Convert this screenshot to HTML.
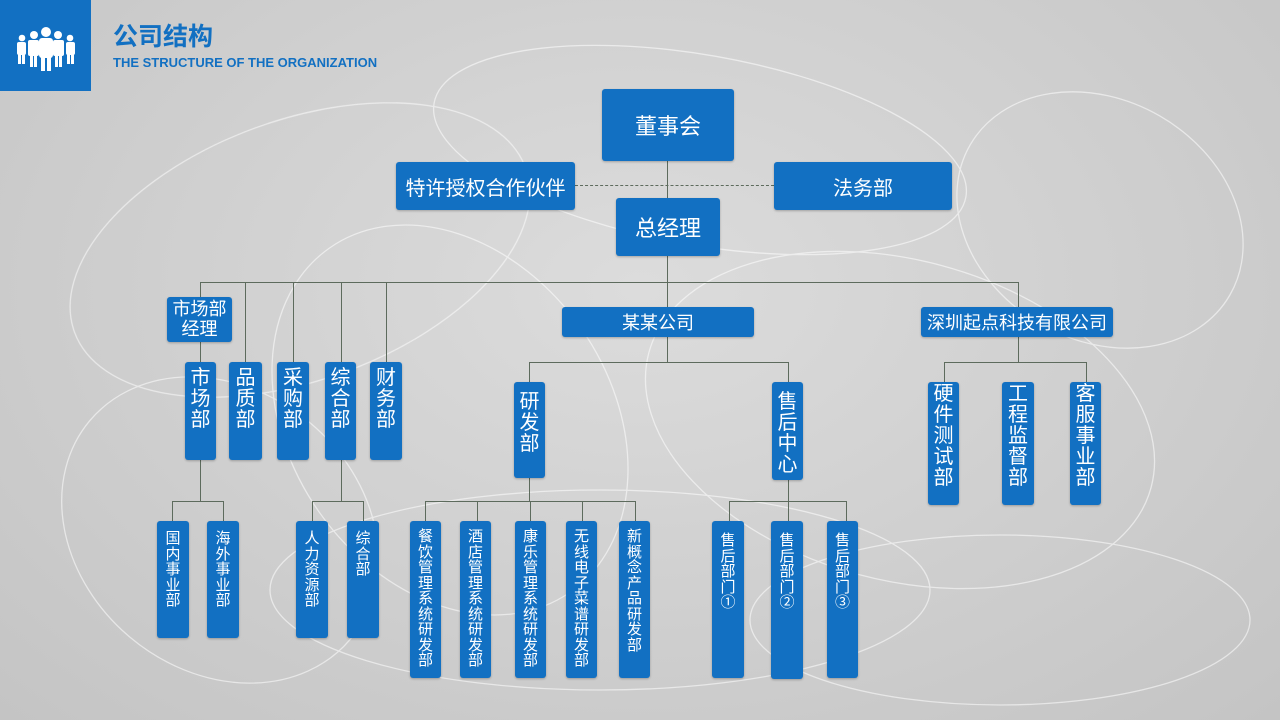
<!DOCTYPE html>
<html style="width:1280px;height:720px;overflow:hidden"><head><meta charset="utf-8"><style>
body{margin:0;width:1280px;height:720px;overflow:hidden;position:relative;background:radial-gradient(ellipse at 50% 40%,#dcdcdc,#c4c4c4);font-family:"Liberation Sans","Noto Sans CJK SC",sans-serif;}
.b{position:absolute;background:#1270c2;color:#fff;border-radius:3px;text-align:center;box-sizing:border-box;box-shadow:0 1px 2px rgba(0,0,0,.25);overflow:hidden;}
.h{display:flex;align-items:center;justify-content:center;white-space:nowrap;}
.v{font-size:20px;line-height:21px;padding:6px 5px 0;word-break:break-all;}
.s{font-size:15px;line-height:15.5px;padding:8px 7px 0;word-break:break-all;}
.l{position:absolute;background:#5d6b5d;}
</style></head><body>
<svg style="position:absolute;left:0;top:0;display:block" width="1280" height="720">
<g fill="none" stroke="#fff" stroke-width="1.3" opacity=".55">
<ellipse cx="300" cy="250" rx="240" ry="130" transform="rotate(-20 300 250)"/>
<ellipse cx="900" cy="420" rx="260" ry="160" transform="rotate(15 900 420)"/>
<ellipse cx="600" cy="590" rx="330" ry="100"/>
<ellipse cx="1100" cy="220" rx="150" ry="120" transform="rotate(30 1100 220)"/>
<ellipse cx="220" cy="530" rx="170" ry="140" transform="rotate(40 220 530)"/>
<ellipse cx="700" cy="150" rx="270" ry="95" transform="rotate(10 700 150)"/>
<ellipse cx="450" cy="420" rx="160" ry="210" transform="rotate(-35 450 420)"/>
<ellipse cx="1000" cy="620" rx="250" ry="85"/>
</g></svg>
<div style="position:absolute;left:0;top:0;width:91px;height:91px;background:#1270c2"></div>
<svg style="position:absolute;left:14px;top:27px" width="64" height="45" fill="#fff">
<circle cx="32" cy="5" r="5"/><rect x="25" y="11" width="14" height="20" rx="3"/><rect x="27" y="28" width="4" height="16"/><rect x="33" y="28" width="4" height="16"/>
<circle cx="44" cy="8" r="4"/><rect x="39" y="13" width="11" height="16" rx="2"/><rect x="41" y="27" width="3" height="13"/><rect x="45" y="27" width="3" height="13"/>
<circle cx="20" cy="8" r="4"/><rect x="14" y="13" width="11" height="16" rx="2"/><rect x="16" y="27" width="3" height="13"/><rect x="20" y="27" width="3" height="13"/>
<circle cx="56" cy="11" r="3.3"/><rect x="52" y="15" width="9" height="13" rx="2"/><rect x="53" y="27" width="3" height="10"/><rect x="57" y="27" width="3" height="10"/>
<circle cx="8" cy="11" r="3.3"/><rect x="3" y="15" width="9" height="13" rx="2"/><rect x="4" y="27" width="3" height="10"/><rect x="8" y="27" width="3" height="10"/>
</svg>
<div style="position:absolute;left:113px;top:22px;font-size:25px;font-weight:bold;color:#1270c2;line-height:30px">公司结构</div>
<div style="position:absolute;left:113px;top:55px;font-size:13px;font-weight:bold;color:#1270c2;">THE STRUCTURE OF THE ORGANIZATION</div>

<div class="l" style="left:667px;top:160px;width:1px;height:40px"></div>
<div style="position:absolute;left:575px;top:185px;width:199px;border-top:1px dashed #5d6b5d"></div>
<div class="l" style="left:667px;top:255px;width:1px;height:52px"></div>
<div class="l" style="left:200px;top:282px;width:818px;height:1px"></div>
<div class="l" style="left:200px;top:282px;width:1px;height:80px"></div>
<div class="l" style="left:245px;top:282px;width:1px;height:80px"></div>
<div class="l" style="left:293px;top:282px;width:1px;height:80px"></div>
<div class="l" style="left:341px;top:282px;width:1px;height:80px"></div>
<div class="l" style="left:386px;top:282px;width:1px;height:80px"></div>
<div class="l" style="left:1018px;top:282px;width:1px;height:80px"></div>
<div class="l" style="left:667px;top:337px;width:1px;height:25px"></div>
<div class="l" style="left:529px;top:362px;width:259px;height:1px"></div>
<div class="l" style="left:529px;top:362px;width:1px;height:20px"></div>
<div class="l" style="left:788px;top:362px;width:1px;height:20px"></div>
<div class="l" style="left:944px;top:362px;width:142px;height:1px"></div>
<div class="l" style="left:944px;top:362px;width:1px;height:20px"></div>
<div class="l" style="left:1086px;top:362px;width:1px;height:20px"></div>
<div class="l" style="left:200px;top:460px;width:1px;height:41px"></div>
<div class="l" style="left:172px;top:501px;width:52px;height:1px"></div>
<div class="l" style="left:172px;top:501px;width:1px;height:20px"></div>
<div class="l" style="left:223px;top:501px;width:1px;height:20px"></div>
<div class="l" style="left:341px;top:460px;width:1px;height:41px"></div>
<div class="l" style="left:312px;top:501px;width:52px;height:1px"></div>
<div class="l" style="left:312px;top:501px;width:1px;height:20px"></div>
<div class="l" style="left:363px;top:501px;width:1px;height:20px"></div>
<div class="l" style="left:529px;top:478px;width:1px;height:23px"></div>
<div class="l" style="left:425px;top:501px;width:210px;height:1px"></div>
<div class="l" style="left:425px;top:501px;width:1px;height:20px"></div>
<div class="l" style="left:477px;top:501px;width:1px;height:20px"></div>
<div class="l" style="left:530px;top:501px;width:1px;height:20px"></div>
<div class="l" style="left:582px;top:501px;width:1px;height:20px"></div>
<div class="l" style="left:635px;top:501px;width:1px;height:20px"></div>
<div class="l" style="left:788px;top:480px;width:1px;height:41px"></div>
<div class="l" style="left:729px;top:501px;width:118px;height:1px"></div>
<div class="l" style="left:729px;top:501px;width:1px;height:20px"></div>
<div class="l" style="left:846px;top:501px;width:1px;height:20px"></div>

<div class="b h" style="left:602px;top:89px;width:132px;height:72px;font-size:22px">董事会</div>
<div class="b h" style="left:396px;top:162px;width:179px;height:48px;font-size:20px">特许授权合作伙伴</div>
<div class="b h" style="left:774px;top:162px;width:178px;height:48px;font-size:20px">法务部</div>
<div class="b h" style="left:616px;top:198px;width:104px;height:58px;font-size:22px">总经理</div>
<div class="b" style="left:167px;top:297px;width:65px;height:45px;font-size:18px;line-height:20px;padding-top:2px">市场部<br>经理</div>
<div class="b h" style="left:562px;top:307px;width:192px;height:30px;font-size:18px">某某公司</div>
<div class="b h" style="left:921px;top:307px;width:192px;height:30px;font-size:18px">深圳起点科技有限公司</div>

<div class="b v" style="left:185px;top:362px;width:31px;height:98px">市场部</div>
<div class="b v" style="left:229px;top:362px;width:33px;height:98px">品质部</div>
<div class="b v" style="left:277px;top:362px;width:32px;height:98px">采购部</div>
<div class="b v" style="left:325px;top:362px;width:31px;height:98px">综合部</div>
<div class="b v" style="left:370px;top:362px;width:32px;height:98px">财务部</div>
<div class="b v" style="left:514px;top:382px;width:31px;height:96px;padding-top:10px">研发部</div>
<div class="b v" style="left:772px;top:382px;width:31px;height:98px;padding-top:10px">售后中心</div>
<div class="b v" style="left:928px;top:382px;width:31px;height:123px;padding-top:2px">硬件测试部</div>
<div class="b v" style="left:1002px;top:382px;width:32px;height:123px;padding-top:2px">工程监督部</div>
<div class="b v" style="left:1070px;top:382px;width:31px;height:123px;padding-top:2px">客服事业部</div>

<div class="b s" style="left:157px;top:521px;width:32px;height:117px;padding-top:10px">国内事业部</div>
<div class="b s" style="left:207px;top:521px;width:32px;height:117px;padding-top:10px">海外事业部</div>
<div class="b s" style="left:296px;top:521px;width:32px;height:117px;padding-top:10px">人力资源部</div>
<div class="b s" style="left:347px;top:521px;width:32px;height:117px;padding-top:10px">综合部</div>
<div class="b s" style="left:410px;top:521px;width:31px;height:157px">餐饮管理系统研发部</div>
<div class="b s" style="left:460px;top:521px;width:31px;height:157px">酒店管理系统研发部</div>
<div class="b s" style="left:515px;top:521px;width:31px;height:157px">康乐管理系统研发部</div>
<div class="b s" style="left:566px;top:521px;width:31px;height:157px">无线电子菜谱研发部</div>
<div class="b s" style="left:619px;top:521px;width:31px;height:157px">新概念产品研发部</div>
<div class="b s" style="left:712px;top:521px;width:32px;height:157px;padding-top:12px">售后部门①</div>
<div class="b s" style="left:771px;top:521px;width:32px;height:158px;padding-top:12px">售后部门②</div>
<div class="b s" style="left:827px;top:521px;width:31px;height:157px;padding-top:12px">售后部门③</div>
</body></html>
